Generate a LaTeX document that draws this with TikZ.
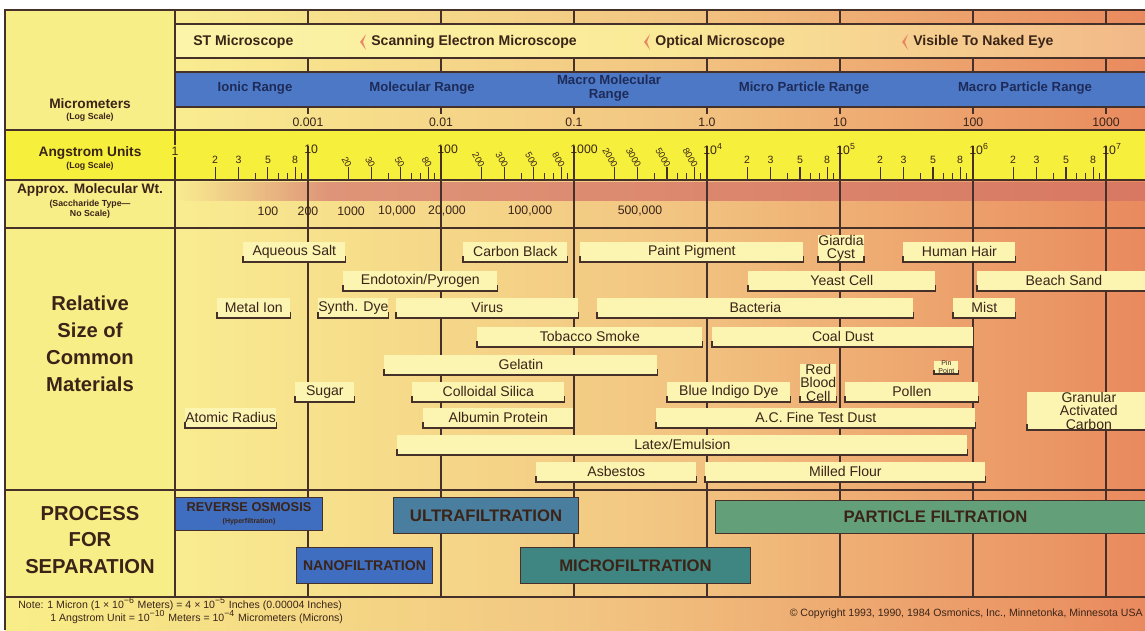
\documentclass[tikz,border=0pt]{standalone}
\usepackage{fontspec}
\setmainfont{Liberation Sans}
\usetikzlibrary{positioning}
\definecolor{lyel}{HTML}{F8EE88}
\definecolor{ayel}{HTML}{F6F03C}
\definecolor{bgl}{HTML}{F9EC90}
\definecolor{bgm}{HTML}{F2C682}
\definecolor{bgr}{HTML}{E98A5E}
\definecolor{mbl}{HTML}{FCF4A8}
\definecolor{mbm}{HTML}{FAEA98}
\definecolor{mbr}{HTML}{F2B888}
\definecolor{pinkrow}{HTML}{DE9478}
\definecolor{pinkend}{HTML}{D87862}
\definecolor{barfill}{HTML}{FCF5B2}
\definecolor{ink}{HTML}{45302A}
\definecolor{txt}{HTML}{3A2418}
\definecolor{bband}{HTML}{4C78C6}
\definecolor{btxt}{HTML}{1E2B58}
\definecolor{rocol}{HTML}{3F6DC0}
\definecolor{ufcol}{HTML}{4A7E9E}
\definecolor{mfcol}{HTML}{3F8682}
\definecolor{pfcol}{HTML}{63A07A}
\definecolor{markcol}{HTML}{E88A66}
\tikzset{
  decade/.style={ink,line width=0.6pt},
  heavy/.style={ink,line width=1.1pt},
  matbox/.style={fill=barfill,text=txt,inner sep=0pt,anchor=south west,
    minimum height=0.4cm,align=center,font=\fontsize{8}{7.8}\selectfont},
  brk/.style={ink,line width=0.7pt},
  proc/.style={draw=ink,line width=0.6pt,text=txt,anchor=north west,inner sep=0pt,
    align=center,font=\bfseries\fontsize{9.5}{10}\selectfont},
  bighead/.style={text=txt,align=center,font=\bfseries\fontsize{11.5}{15.3}\selectfont},
  rowlab/.style={text=txt,align=center,inner sep=0pt,font=\bfseries\fontsize{7.8}{8}\selectfont},
  sublab/.style={text=txt,align=center,inner sep=0pt,font=\bfseries\fontsize{5}{6}\selectfont},
  scalenum/.style={text=txt,inner sep=0pt,font=\fontsize{7}{7}\selectfont},
  minornum/.style={text=txt,inner sep=0pt,font=\fontsize{6}{6}\selectfont},
  micro/.style={text=txt,anchor=west,inner sep=0pt,font=\bfseries\fontsize{8}{8}\selectfont},
  rangelab/.style={text=btxt,align=center,inner sep=0pt,font=\bfseries\fontsize{7.5}{8}\selectfont},
  eyemark/.style={fill=markcol,draw=none},
  foottext/.style={text=txt,inner sep=0pt,font=\fontsize{6}{6}\selectfont},
}
\newcommand{\matbar}[5]{%
  \node[matbox,minimum width={(#3-#2)*0.02cm}] (#1) at (#2,#4) {#5};
  \draw[brk] ([yshift=3.5pt]#1.south west) -- (#1.south west)
    -- (#1.south east) -- ([yshift=3.5pt]#1.south east);
}

\begin{document}
\begin{tikzpicture}[x=0.02cm,y=-0.02cm]
\useasboundingbox (0,0) rectangle (1145,630);
\clip (0,0) rectangle (1145,630);
\fill[white] (0,0) rectangle (1145,630);

% backgrounds
\fill[lyel] (5,10) rectangle (175,597);
\shade[left color=bgl,right color=bgr,middle color=bgm] (175,10) rectangle (1145,597);
\shade[left color=lyel,right color=bgr,middle color=bgm] (5,597) rectangle (1145,630);
\shade[left color=mbl,right color=mbr,middle color=mbm] (175,24) rectangle (1145,58);
\fill[bband] (175,72) rectangle (1145,107);
\fill[ayel] (5,130) rectangle (1145,180);
\shade[left color=bgl,right color=pinkrow] (175,182) rectangle (330,200);
\shade[left color=pinkrow,right color=pinkend] (330,182) rectangle (1145,200);

% frame and grid
\draw[heavy] (5,630) -- (5,10) -- (1145,10);
\draw[heavy] (175,10) -- (175,597);
\foreach \yy in {24,58,72,107} \draw[decade] (175,\yy) -- (1145,\yy);
\foreach \yy in {130,180,228,490,597} \draw[heavy] (5,\yy) -- (1145,\yy);
\foreach \k in {0,...,6} {
  \pgfmathsetmacro\xx{308+133*\k}
  \draw[decade] (\xx,10) -- (\xx,24) (\xx,58) -- (\xx,72)
    (\xx,107) -- (\xx,114) (\xx,146) -- (\xx,597);
}

% angstrom scale
\foreach \d in {0,...,6}
  \foreach \m in {4,6,7,9} {
    \pgfmathsetmacro\xx{175+133*(\d+log10(\m))}
    \draw[decade] (\xx,173) -- (\xx,180);
  }
\foreach \d in {0,...,6}
  \foreach \m in {2,3,5,8} {
    \pgfmathsetmacro\xx{175+133*(\d+log10(\m))}
    \draw[decade] (\xx,167) -- (\xx,180);
  }
\foreach \d in {0,4,5,6}
  \foreach \m in {2,3,5,8} {
    \pgfmathsetmacro\xx{175+133*(\d+log10(\m))}
    \node[minornum] (an\d\m) at (\xx,160) {\m};
  }
\foreach \d/\z in {1/0,2/00,3/000}
  \foreach \m in {2,3,5,8} {
    \pgfmathsetmacro\xx{175+133*(\d+log10(\m))}
    \node[minornum,font=\fontsize{5.3}{5.3}\selectfont,rotate=-60,anchor=east]
      (an\d\m) at (\xx+1.5,167) {\m\z};
  }
\node[scalenum,fill=ayel,inner sep=1pt] (ang0) at (175,151) {1};
\foreach \k/\t in {0/10,1/100,2/1000,3/{10\textsuperscript{4}},4/{10\textsuperscript{5}},
    5/{10\textsuperscript{6}},6/{10\textsuperscript{7}}}
  \node[scalenum,anchor=west] (ang\k) at (304+133*\k,149) {\t};

% micrometer scale
\foreach \k/\t in {0/0.001,1/0.01,2/0.1,3/1.0,4/10,5/100,6/1000}
  \node[scalenum] (um\k) at (308+133*\k,122) {\t};

% molecular weight
\foreach \x/\t [count=\i] in {268/100,308/200,351/1000,397/{10,000},447/{20,000},
    530/{100,000},640/{500,000}}
  \node[scalenum] (mw\i) at (\x,211) {\t};

% left column
\node[rowlab] (lmicro) at (90,104) {Micrometers};
\node[sublab] (lmicrolog) at (90,117) {(Log Scale)};
\node[rowlab] (lang) at (90,153) {Angstrom Units};
\node[sublab] (lang2) at (90,166) {(Log Scale)};
\node[rowlab] (lmw) at (90,190) {Approx. Molecular Wt.};
\node[sublab] (lmw2) at (90,209) {(Saccharide Type—\\No Scale)};
\node[bighead] (lrel) at (90,344) {Relative\\Size of\\Common\\Materials};
\node[bighead] (lproc) at (90,540) {PROCESS\\FOR\\SEPARATION};

% microscopes
\node[micro] (stm) at (193,42) {ST Microscope};
\node[micro] (sem) at (371,42) {Scanning Electron Microscope};
\node[micro] (opt) at (655,42) {Optical Microscope};
\node[micro] (eye) at (913,42) {Visible To Naked Eye};
\foreach \x in {366,650,908}
  \fill[eyemark] (\x,34) -- (\x-6,42) -- (\x,50) -- (\x-3,42) -- cycle;

% ranges
\node[rangelab] (ionic) at (255,88) {Ionic Range};
\node[rangelab] (molec) at (422,88) {Molecular Range};
\node[rangelab] (macmol) at (609,88) {Macro Molecular\\Range};
\node[rangelab] (micpart) at (804,88) {Micro Particle Range};
\node[rangelab] (macpart) at (1025,88) {Macro Particle Range};

% common materials
\matbar{salt}{243}{345}{262}{Aqueous Salt}
\matbar{carbon}{463}{567}{262}{Carbon Black}
\matbar{paint}{580}{803}{262}{Paint Pigment}
\matbar{giardia}{818}{862}{262}{Giardia\\Cyst}
\matbar{hair}{903}{1015}{262}{Human Hair}
\matbar{endo}{343}{497}{291}{Endotoxin/Pyrogen}
\matbar{yeast}{748}{935}{291}{Yeast Cell}
\matbar{sand}{977}{1150}{291}{Beach Sand}
\matbar{metal}{217}{290}{318}{Metal Ion}
\matbar{dye}{318}{386}{318}{Synth. Dye}
\matbar{virus}{396}{578}{318}{Virus}
\matbar{bact}{597}{913}{318}{Bacteria}
\matbar{mist}{953}{1015}{318}{Mist}
\matbar{smoke}{477}{702}{347}{Tobacco Smoke}
\matbar{coal}{712}{973}{347}{Coal Dust}
\matbar{gelatin}{384}{657}{375}{Gelatin}
\node[matbox,minimum width=0.48cm,minimum height=0.2cm,font=\fontsize{4}{4.5}\selectfont]
  (pin) at (934,374) {Pin\\Point};
\draw[brk] ([yshift=2pt]pin.south west) -- (pin.south west) -- (pin.south east)
  -- ([yshift=2pt]pin.south east);
\matbar{sugar}{295}{354}{402}{Sugar}
\matbar{silica}{412}{564}{402}{Colloidal Silica}
\matbar{indigo}{667}{790}{402}{Blue Indigo Dye}
\matbar{rbc}{800}{835}{402}{Red\\Blood\\Cell}
\matbar{pollen}{845}{978}{402}{Pollen}
\matbar{gac}{1027}{1150}{430}{Granular\\Activated\\Carbon}
\matbar{atomic}{185}{275}{428}{Atomic Radius}
\matbar{albumin}{423}{573}{428}{Albumin Protein}
\matbar{acdust}{656}{975}{428}{A.C. Fine Test Dust}
\matbar{latex}{397}{967}{455}{Latex/Emulsion}
\matbar{asb}{536}{696}{482}{Asbestos}
\matbar{flour}{705}{985}{482}{Milled Flour}

% separation processes
\node[proc,fill=rocol,minimum width=2.94cm,minimum height=0.66cm,
  font=\bfseries\fontsize{7.3}{7}\selectfont] (ro) at (175,497)
  {REVERSE OSMOSIS\\{\fontsize{4}{4}\selectfont (Hyperfiltration)}};
\node[proc,fill=ufcol,minimum width=3.7cm,minimum height=0.72cm] (uf) at (393,497) {ULTRAFILTRATION};
\node[proc,fill=pfcol,minimum width=8.8cm,minimum height=0.66cm] (pf) at (715,500) {PARTICLE FILTRATION};
\node[proc,fill=rocol,minimum width=2.72cm,minimum height=0.72cm,
  font=\bfseries\fontsize{8}{8}\selectfont] (nf) at (296,547) {NANOFILTRATION};
\node[proc,fill=mfcol,minimum width=4.6cm,minimum height=0.72cm] (mf) at (520,547) {MICROFILTRATION};

% footer
\node[foottext,anchor=west] (note1) at (18,604)
  {Note: 1 Micron (1 × 10\textsuperscript{−6} Meters) = 4 × 10\textsuperscript{−5} Inches (0.00004 Inches)};
\node[foottext,anchor=west] (note2) at (50,617)
  {1 Angstrom Unit = 10\textsuperscript{−10} Meters = 10\textsuperscript{−4} Micrometers (Microns)};
\node[foottext,anchor=east] (copy) at (1143,614)
  {© Copyright 1993, 1990, 1984 Osmonics, Inc., Minnetonka, Minnesota USA};
\end{tikzpicture}
\end{document}
